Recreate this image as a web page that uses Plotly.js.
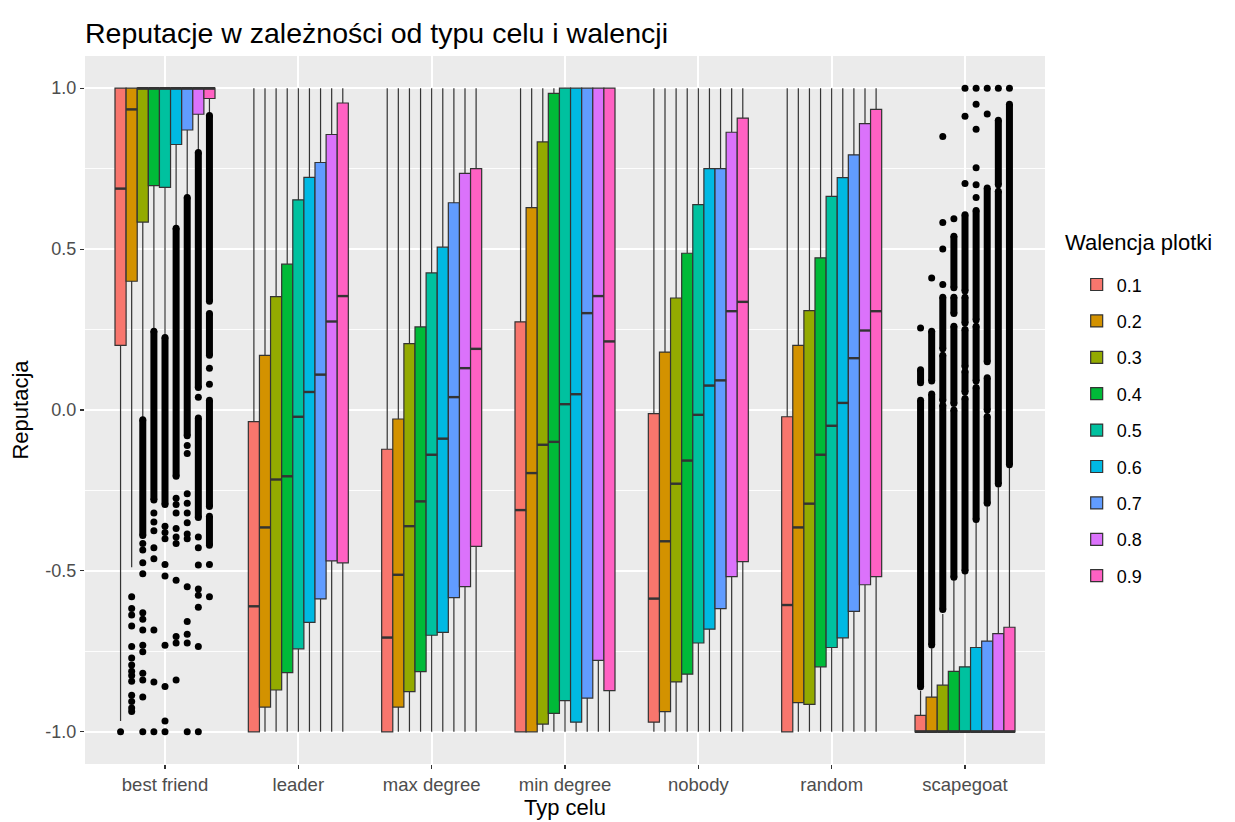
<!DOCTYPE html>
<html>
<head>
<meta charset="utf-8">
<script src="https://cdn.plot.ly/plotly-3.0.1.min.js"></script>
<style>html,body{margin:0;padding:0;background:#fff;}#chart{width:1235px;height:822px;}</style>
</head>
<body>
<div id="chart"></div>
<script>
// ---------- data ----------
const categories = ['best friend', 'leader', 'max degree', 'min degree', 'nobody', 'random', 'scapegoat'];
const groups = ['0.1', '0.2', '0.3', '0.4', '0.5', '0.6', '0.7', '0.8', '0.9'];
const colors = ['#F8766D', '#D39200', '#93AA00', '#00BA38', '#00C19F', '#00B9E3', '#619CFF', '#DB72FB', '#FF61C3'];
const yTickVals = [-1, -0.5, 0, 0.5, 1];
const yTickText = ['-1.0', '-0.5', '0.0', '0.5', '1.0'];
const yMinorVals = [-0.75, -0.25, 0.25, 0.75];

// [category][group]
const q3Vals = [
  [1, 1, 1, 1, 1, 1, 1, 1, 1],
  [-0.036, 0.170, 0.352, 0.453, 0.653, 0.723, 0.769, 0.856, 0.954],
  [-0.122, -0.028, 0.206, 0.258, 0.426, 0.506, 0.644, 0.735, 0.750],
  [0.274, 0.629, 0.833, 0.984, 1, 1, 1, 1, 1],
  [-0.011, 0.180, 0.348, 0.487, 0.638, 0.750, 0.750, 0.863, 0.907],
  [-0.021, 0.201, 0.309, 0.473, 0.664, 0.722, 0.793, 0.890, 0.934],
  [-0.949, -0.892, -0.855, -0.812, -0.798, -0.738, -0.718, -0.695, -0.675]
];
const medianVals = [
  [0.688, 0.934, 1, 1, 1, 1, 1, 1, 1],
  [-0.610, -0.365, -0.216, -0.206, -0.021, 0.056, 0.110, 0.275, 0.354],
  [-0.707, -0.512, -0.361, -0.284, -0.139, -0.089, 0.040, 0.130, 0.190],
  [-0.311, -0.196, -0.108, -0.099, 0.018, 0.049, 0.301, 0.354, 0.213],
  [-0.586, -0.408, -0.229, -0.157, -0.015, 0.076, 0.092, 0.307, 0.336],
  [-0.606, -0.365, -0.291, -0.139, -0.049, 0.022, 0.161, 0.247, 0.307],
  [-1, -1, -1, -1, -1, -1, -1, -1, -1]
];
const q1Vals = [
  [0.201, 0.400, 0.584, 0.697, 0.692, 0.825, 0.870, 0.919, 0.968],
  [-1.0, -0.923, -0.870, -0.816, -0.742, -0.660, -0.587, -0.469, -0.475],
  [-1.0, -0.923, -0.875, -0.813, -0.700, -0.691, -0.583, -0.549, -0.424],
  [-1.0, -1.0, -0.976, -0.943, -0.903, -0.970, -0.895, -0.778, -0.872],
  [-0.970, -0.937, -0.845, -0.821, -0.724, -0.681, -0.617, -0.518, -0.471],
  [-1.0, -0.909, -0.915, -0.798, -0.738, -0.708, -0.626, -0.543, -0.518],
  [-1, -1, -1, -1, -1, -1, -1, -1, -1]
];
const lowerFenceVals = [
  [-0.966, -0.489, -0.025, 0.251, 0.230, 0.571, 0.668, 0.805, 0.921],
  [-1, -1, -1, -1, -1, -1, -1, -1, -1],
  [-1, -1, -1, -1, -1, -1, -1, -1, -1],
  [-1, -1, -1, -1, -1, -1, -1, -1, -1],
  [-1, -1, -1, -1, -1, -1, -1, -1, -1],
  [-1, -1, -1, -1, -1, -1, -1, -1, -1],
  [-1, -1, -1, -1, -1, -1, -1, -1, -1]
];
const upperFenceVals = [
  [1, 1, 1, 1, 1, 1, 1, 1, 1],
  [1, 1, 1, 1, 1, 1, 1, 1, 1],
  [1, 1, 1, 1, 1, 1, 1, 1, 1],
  [1, 1, 1, 1, 1, 1, 1, 1, 1],
  [1, 1, 1, 1, 1, 1, 1, 1, 1],
  [1, 1, 1, 1, 1, 1, 1, 1, 1],
  [-0.872, -0.740, -0.634, -0.529, -0.506, -0.348, -0.300, -0.240, -0.180]
];

// outliers: dense runs of overlapping points [from, to] and isolated points, per group
const bestFriendRuns = [
  [],
  [],
  [[-0.03, -0.39]],
  [[0.245, -0.28]],
  [[0.225, -0.294]],
  [[0.565, -0.206]],
  [[0.66, -0.08]],
  [[0.80, 0.07], [-0.025, -0.334]],
  [[0.915, 0.338], [0.30, 0.17], [0.03, -0.30], [-0.33, -0.42]]
];
const bestFriendPoints = [
  [-1.0],
  [-0.58, -0.617, -0.637, -0.671, -0.735, -0.771, -0.792, -0.812, -0.825, -0.843, -0.886, -0.906, -0.926, -0.937],
  [-0.415, -0.435, -0.475, -0.509, -0.63, -0.65, -0.684, -0.731, -0.751, -0.818, -0.839, -0.892, -1.0],
  [-0.32, -0.348, -0.375, -0.428, -0.462, -0.684, -0.845, -1.0],
  [-0.361, -0.381, -0.40, -0.48, -0.516, -0.731, -0.859, -0.966, -1.0],
  [-0.274, -0.294, -0.32, -0.368, -0.395, -0.415, -0.529, -0.704, -0.724, -0.839],
  [-0.11, -0.135, -0.26, -0.29, -0.32, -0.35, -0.385, -0.40, -0.549, -0.657, -0.697, -0.724, -1.0],
  [0.04, -0.395, -0.428, -0.482, -0.556, -0.576, -0.613, -0.735, -1.0],
  [0.13, 0.08, -0.48, -0.58]
];
const scapegoatRuns = [
  [[-0.86, 0.03], [0.085, 0.125]],
  [[-0.73, 0.05], [0.09, 0.245]],
  [[-0.62, 0.015], [0.03, 0.17], [0.19, 0.35]],
  [[-0.52, 0.0], [0.02, 0.26], [0.30, 0.35], [0.38, 0.54]],
  [[-0.50, 0.036], [0.056, 0.12], [0.135, 0.25], [0.27, 0.35], [0.37, 0.607]],
  [[-0.34, 0.07], [0.09, 0.26], [0.28, 0.62]],
  [[-0.29, -0.02], [0.0, 0.10], [0.15, 0.69]],
  [[-0.23, 0.68], [0.70, 0.90]],
  [[-0.17, 0.95]]
];
const scapegoatPoints = [
  [0.255],
  [0.41],
  [0.39, 0.50, 0.583, 0.85],
  [0.594],
  [0.704, 0.913, 1.0],
  [0.66, 0.70, 0.753, 0.872, 0.95, 1.0],
  [0.92, 1.0],
  [1.0],
  [1.0]
];
const outlierCategory = ['best friend', 'scapegoat'];
const outlierRuns = [bestFriendRuns, scapegoatRuns];
const outlierPoints = [bestFriendPoints, scapegoatPoints];

// ---------- build ----------
const dodgeTotal = 0.75;
const slot = dodgeTotal / groups.length;
const pos = (c, g) => c + (g - (groups.length - 1) / 2) * slot;
const font = 'Liberation Sans, Arial, sans-serif';

const traces = [];
groups.forEach((gName, g) => {
  traces.push({
    type: 'box',
    name: gName,
    legendgroup: gName,
    x: categories.map((_, c) => pos(c, g)),
    q1: categories.map((_, c) => q1Vals[c][g]),
    median: categories.map((_, c) => medianVals[c][g]),
    q3: categories.map((_, c) => q3Vals[c][g]),
    lowerfence: categories.map((_, c) => lowerFenceVals[c][g]),
    upperfence: categories.map((_, c) => upperFenceVals[c][g]),
    width: slot,
    whiskerwidth: 0,
    boxpoints: false,
    fillcolor: colors[g],
    line: { color: '#333333', width: 1.2 },
    hoverinfo: 'skip'
  });
});

// thicker median lines (ggplot style)
const medX = [], medY = [];
groups.forEach((_, g) => {
  categories.forEach((_, c) => {
    const xc = pos(c, g);
    medX.push(xc - slot / 2, xc + slot / 2, null);
    medY.push(medianVals[c][g], medianVals[c][g], null);
  });
});
traces.push({
  type: 'scatter', mode: 'lines', x: medX, y: medY,
  line: { color: '#333333', width: 2.4 }, showlegend: false, hoverinfo: 'skip'
});

// outliers
const runX = [], runY = [], ptX = [], ptY = [];
outlierCategory.forEach((catName, k) => {
  const c = categories.indexOf(catName);
  groups.forEach((_, g) => {
    const xc = pos(c, g);
    outlierRuns[k][g].forEach(r => { runX.push(xc, xc, null); runY.push(r[0], r[1], null); });
    outlierPoints[k][g].forEach(v => { ptX.push(xc); ptY.push(v); });
  });
});
traces.push({
  type: 'scatter', mode: 'lines+markers', x: runX, y: runY,
  line: { color: '#000000', width: 7 }, marker: { color: '#000000', size: 7 },
  showlegend: false, hoverinfo: 'skip', connectgaps: false
});
traces.push({
  type: 'scatter', mode: 'markers', x: ptX, y: ptY,
  marker: { color: '#000000', size: 7 }, showlegend: false, hoverinfo: 'skip'
});

const layout = {
  width: 1235, height: 822,
  margin: { l: 85, r: 190, t: 56, b: 58 },
  paper_bgcolor: '#FFFFFF',
  plot_bgcolor: '#EBEBEB',
  font: { family: font, color: '#000000' },
  title: {
    text: 'Reputacje w zależności od typu celu i walencji',
    font: { size: 28.5, color: '#000000', family: font },
    x: 85 / 1235, xanchor: 'left', xref: 'container',
    y: 1 - 33 / 822, yanchor: 'middle', yref: 'container'
  },
  showlegend: true,
  legend: {
    x: 1.033, xanchor: 'left', y: 0.703, yanchor: 'top',
    font: { size: 18, color: '#000000' },
    tracegroupgap: 10,
    bgcolor: 'rgba(0,0,0,0)'
  },
  annotations: [{
    text: 'Walencja plotki', showarrow: false,
    xref: 'paper', yref: 'paper', x: 1.019, xanchor: 'left', y: 0.737, yanchor: 'middle',
    font: { size: 22, color: '#000000', family: font }
  }],
  xaxis: {
    range: [-0.6, categories.length - 0.4],
    tickvals: categories.map((_, c) => c),
    ticktext: categories,
    showgrid: true, gridcolor: '#FFFFFF', gridwidth: 1.8,
    zeroline: false, showline: false,
    ticks: 'outside', ticklen: 4, tickwidth: 1.1, tickcolor: '#333333',
    tickfont: { size: 18.5, color: '#4D4D4D' },
    title: { text: 'Typ celu', font: { size: 22, color: '#000000' }, standoff: 1 }
  },
  yaxis: {
    range: [-1.1, 1.1],
    tickvals: yTickVals,
    ticktext: yTickText,
    showgrid: true, gridcolor: '#FFFFFF', gridwidth: 1.8,
    zeroline: false, showline: false,
    ticks: 'outside', ticklen: 4, tickwidth: 1.1, tickcolor: '#333333',
    tickfont: { size: 18, color: '#4D4D4D' },
    minor: { tickvals: yMinorVals, showgrid: true, gridcolor: '#FFFFFF', gridwidth: 0.9, ticks: '' },
    title: { text: 'Reputacja', font: { size: 22, color: '#000000' }, standoff: 10 }
  },
  boxmode: 'overlay'
};

Plotly.newPlot('chart', traces, layout, { displayModeBar: false, staticPlot: true });
</script>
</body>
</html>
